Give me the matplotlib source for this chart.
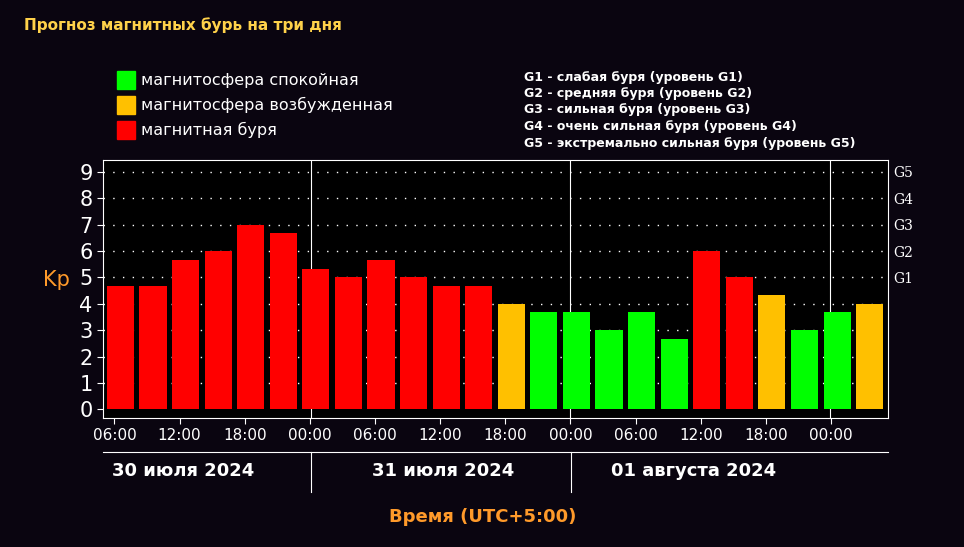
import matplotlib
matplotlib.use("Agg")
import matplotlib.pyplot as plt
from matplotlib.patches import Rectangle

kp = [4.67,4.67,5.67,6,7,6.67,5.33,5,5.67,5,4.67,4.67,4,3.67,3.67,3,3.67,2.67,6,5,4.33,3,3.67,4]
time_labels = ["06:00","12:00","18:00","00:00","06:00","12:00","18:00","00:00","06:00","12:00","18:00","00:00"]
days = ["30 июля 2024","31 июля 2024","01 августа 2024"]
g_labels = ["G1","G2","G3","G4","G5"]
legend_items = [("магнитосфера спокойная","#00ff00"),("магнитосфера возбужденная","#ffc000"),("магнитная буря","#ff0000")]
g_text = ["G1 - слабая буря (уровень G1)","G2 - средняя буря (уровень G2)","G3 - сильная буря (уровень G3)",
          "G4 - очень сильная буря (уровень G4)","G5 - экстремально сильная буря (уровень G5)"]

W, H = 964, 547
fig = plt.figure(figsize=(W/100, H/100), dpi=100, facecolor="#0a0510")
def fx(x): return x/W
def fy(y): return 1-y/H

ax = fig.add_axes([fx(103), fy(418), fx(888)-fx(103), fy(160)-fy(418)])
ax.set_facecolor("black")
ax.set_xlim(0, 24.1)
ax.set_ylim(-0.33, 9.45)
def color(v):
    if v < 4: return "#00ff00"
    if v < 4.5: return "#ffc000"
    return "#ff0000"
ax.bar([i+0.535 for i in range(len(kp))], kp, width=0.83, color=[color(v) for v in kp], zorder=3)
for y in range(1, 10):
    ax.axhline(y, color="white", ls=(0,(1,6)), lw=1, zorder=1)
for xv in [6.38, 14.35, 22.32]:
    ax.axvline(xv, color="white", lw=0.8, zorder=2)
for s in ax.spines.values():
    s.set_color("white")
ax.set_yticks(range(10))
ax.set_yticklabels([str(i) for i in range(10)], fontsize=15, color="white")
ax.set_xticks([2*k+0.35 for k in range(len(time_labels))])
ax.set_xticklabels(time_labels, fontsize=11, color="white")
ax.tick_params(colors="white", length=4)
ax2 = ax.twinx()
ax2.set_ylim(ax.get_ylim())
ax2.set_yticks([5,6,7,8,9])
ax2.set_yticklabels(g_labels, fontsize=10, color="white", family="DejaVu Serif")
ax2.tick_params(colors="white", length=0)
for s in ax2.spines.values():
    s.set_visible(False)

fig.text(fx(24), fy(25), "Прогноз магнитных бурь на три дня", color="#ffd24a", fontsize=11, fontweight="bold", va="center")
fig.text(fx(43), fy(280), "Kp", color="#ff9a2a", fontsize=15, va="center")
for i, (t, c) in enumerate(legend_items):
    y = 80 + i*25
    fig.patches.append(Rectangle((fx(117), fy(y+9)), fx(18), 18/H, color=c, transform=fig.transFigure))
    fig.text(fx(141), fy(y), t, color="white", fontsize=11.5, va="center")
for i, t in enumerate(g_text):
    fig.text(fx(524), fy(77+i*16.5), t, color="white", fontsize=9, fontweight="bold", va="center")

# date strip
fig.lines.append(plt.Line2D([fx(103), fx(888)], [fy(452), fy(452)], color="white", lw=0.8, transform=fig.transFigure))
for xv in [311, 571]:
    fig.lines.append(plt.Line2D([fx(xv), fx(xv)], [fy(452), fy(492)], color="white", lw=0.8, transform=fig.transFigure))
for x, t in zip([183, 443, 694], days):
    fig.text(fx(x), fy(471), t, color="white", fontsize=13, fontweight="bold", ha="center", va="center")
fig.text(fx(483), fy(517), "Время (UTC+5:00)", color="#ff9a2a", fontsize=13, fontweight="bold", ha="center", va="center")

fig.savefig("out.png", dpi=100, facecolor=fig.get_facecolor())
